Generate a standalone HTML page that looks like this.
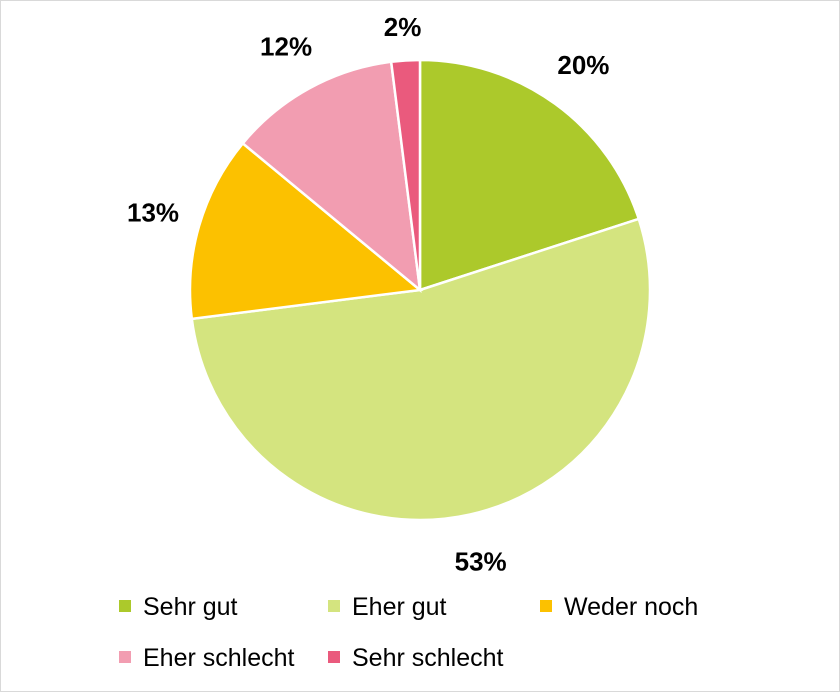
<!DOCTYPE html>
<html><head><meta charset="utf-8"><style>
body{margin:0;background:#fff}
svg{display:block;font-family:"Liberation Sans",sans-serif}
</style></head><body>
<svg width="840" height="692" viewBox="0 0 840 692">
<rect x="0.5" y="0.5" width="839" height="691" fill="#fff" stroke="#d9d9d9"/>
<g id="slices"></g><g id="labels"></g><g id="legend"></g>
</svg>
<script>
const categories=["Sehr gut","Eher gut","Weder noch","Eher schlecht","Sehr schlecht"];
const values=[20,53,13,12,2];
const valueLabels=["20%","53%","13%","12%","2%"];
const colors=["#acc92b","#d4e47f","#fcc100","#f29db1","#ea5a7d"];
const cx=420,cy=290,r=230,ns="http://www.w3.org/2000/svg";
const total=values.reduce((a,b)=>a+b,0);
const sg=document.getElementById('slices'),lg=document.getElementById('labels'),leg=document.getElementById('legend');
function pt(a,rr){return [cx+rr*Math.sin(a),cy-rr*Math.cos(a)];}
let acc=0;
values.forEach((v,i)=>{
  const a0=acc/total*2*Math.PI;acc+=v;const a1=acc/total*2*Math.PI;
  const p0=pt(a0,r),p1=pt(a1,r),large=(a1-a0)>Math.PI?1:0;
  const p=document.createElementNS(ns,'path');
  p.setAttribute('d',`M${cx},${cy}L${p0[0]},${p0[1]}A${r},${r} 0 ${large} 1 ${p1[0]},${p1[1]}Z`);
  p.setAttribute('fill',colors[i]);p.setAttribute('stroke','#fff');p.setAttribute('stroke-width','2.5');
  
  
  sg.appendChild(p);
  const am=(a0+a1)/2,lp=pt(am,r+48);
  const t=document.createElementNS(ns,'text');
  t.setAttribute('x',lp[0]);t.setAttribute('y',Math.max(lp[1]+9,36));t.setAttribute('text-anchor','middle');
  t.setAttribute('font-size','26');t.setAttribute('font-weight','bold');t.setAttribute('fill','#000');
  t.textContent=valueLabels[i];
  
  
  lg.appendChild(t);
});
const lpos=[[119,600],[328,600],[540,600],[119,651],[328,651]];
categories.forEach((c,i)=>{
  const g=document.createElementNS(ns,'g');
  
  
  const s=document.createElementNS(ns,'rect');
  s.setAttribute('x',lpos[i][0]);s.setAttribute('y',lpos[i][1]);s.setAttribute('width',12);s.setAttribute('height',12);s.setAttribute('fill',colors[i]);
  const t=document.createElementNS(ns,'text');
  t.setAttribute('x',lpos[i][0]+24);t.setAttribute('y',lpos[i][1]+15);t.setAttribute('font-size','25');t.setAttribute('fill','#000');
  t.textContent=c;
  g.appendChild(s);g.appendChild(t);leg.appendChild(g);
});
</script>
</body></html>
